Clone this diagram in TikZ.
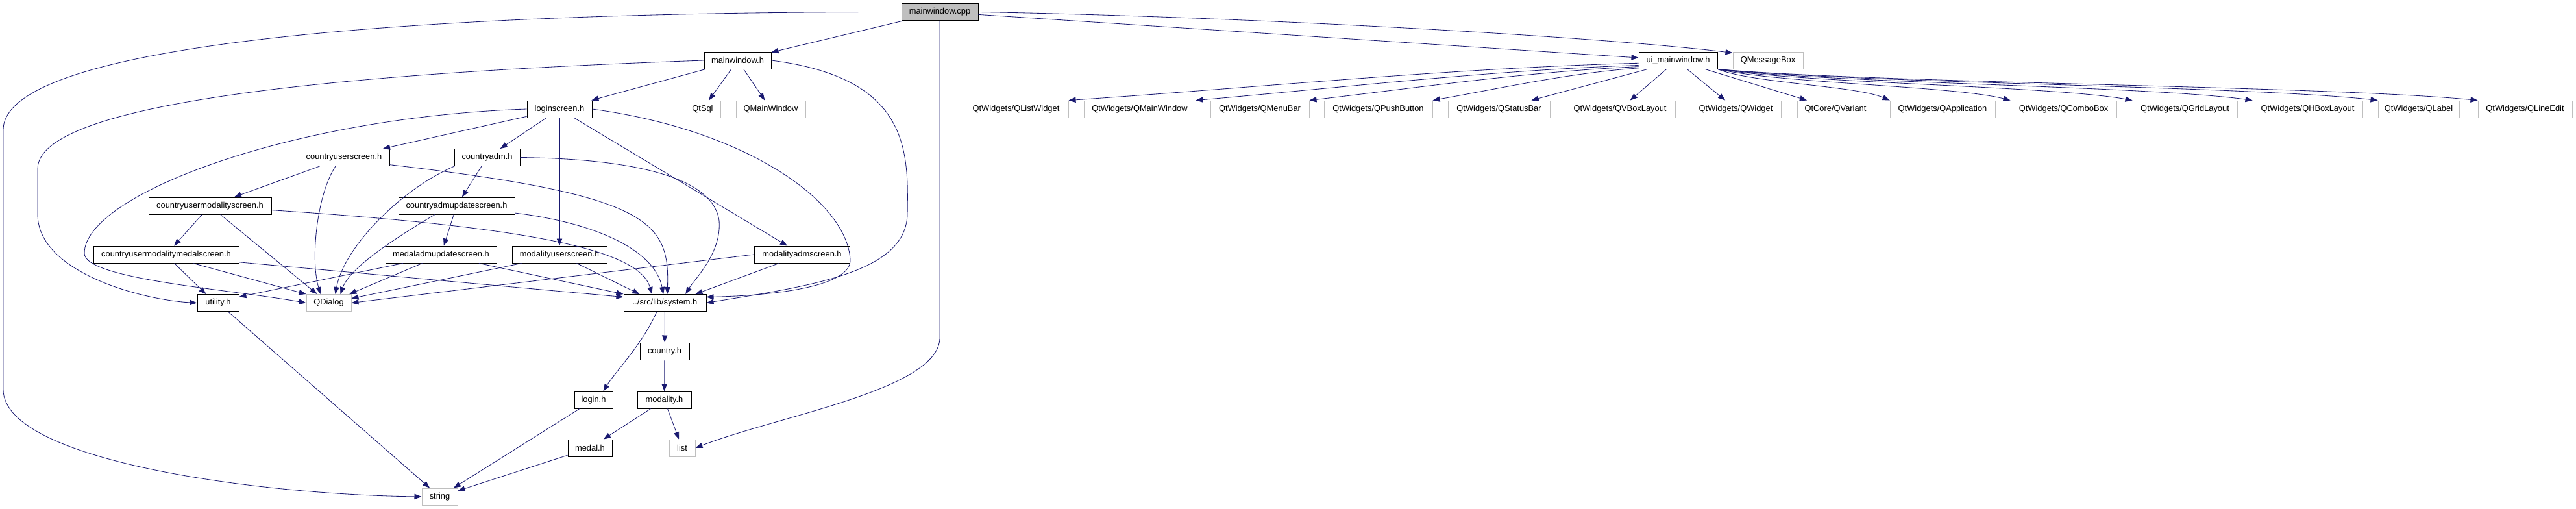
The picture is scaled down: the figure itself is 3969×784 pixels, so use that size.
\documentclass[tikz,border=0pt]{standalone}
\usepackage{fontspec}
\setmainfont{Liberation Sans}
\usetikzlibrary{arrows.meta}
\definecolor{cnavy}{HTML}{191970}
\definecolor{cgrey}{HTML}{BFBFBF}
\tikzset{
  every picture/.style={x=0.254mm, y=-0.254mm},
  file/.style={draw=black, fill=white, line width=0.7pt, inner sep=0pt, minimum height=6.6mm, font=\fontsize{9.3}{11}\selectfont},
  hdr/.style={file, minimum width=#1*0.254mm},
  ext/.style={file, draw=cgrey, minimum width=#1*0.254mm},
  root/.style={file, fill=cgrey, minimum width=#1*0.254mm},
  dep/.style={-{Triangle[length=2.8mm, width=2.1mm]}, draw=cnavy, line width=0.6pt},
}

\begin{document}
\begin{tikzpicture}
  \useasboundingbox (0,0) rectangle (3969,784);
  \node[root=118] (cpp) at (1448,18.5) {mainwindow.cpp};
  \node[hdr=103] (mw) at (1136.5,93) {mainwindow.h};
  \node[hdr=121] (ui) at (2585.5,93) {ui\_mainwindow.h};
  \node[ext=108] (qmb) at (2724,93) {QMessageBox};
  \node[hdr=100] (login) at (862,168) {loginscreen.h};
  \node[ext=55] (qsql) at (1082.5,168) {QtSql};
  \node[ext=107] (qmain) at (1187.5,168) {QMainWindow};
  \node[hdr=140] (cus) at (530,242.5) {countryuserscreen.h};
  \node[hdr=101] (cadm) at (750.5,242.5) {countryadm.h};
  \node[hdr=189] (cums) at (323.5,317) {countryusermodalityscreen.h};
  \node[hdr=179] (cadmu) at (703.5,317) {countryadmupdatescreen.h};
  \node[hdr=224] (cumms) at (256,392) {countryusermodalitymedalscreen.h};
  \node[hdr=171] (madmu) at (679.5,392) {medaladmupdatescreen.h};
  \node[hdr=146] (mus) at (862,392) {modalityuserscreen.h};
  \node[hdr=147] (mas) at (1235.5,392) {modalityadmscreen.h};
  \node[hdr=64] (util) at (336,466.5) {utility.h};
  \node[ext=69] (qdlg) at (506.5,466.5) {QDialog};
  \node[hdr=127] (sys) at (1024.5,466.5) {../src/lib/system.h};
  \node[hdr=76] (country) at (1024,541) {country.h};
  \node[hdr=59] (loginh) at (914.5,616) {login.h};
  \node[hdr=83] (modal) at (1023.5,616) {modality.h};
  \node[hdr=68] (medal) at (909,690) {medal.h};
  \node[ext=40] (list) at (1051,690) {list};
  \node[ext=55] (str) at (677.5,765) {string};
  \node[ext=161] (qlw) at (1565.5,168) {QtWidgets/QListWidget};
  \node[ext=172] (qmw) at (1756,168) {QtWidgets/QMainWindow};
  \node[ext=152] (qmbar) at (1941,168) {QtWidgets/QMenuBar};
  \node[ext=167] (qpb) at (2123.5,168) {QtWidgets/QPushButton};
  \node[ext=157] (qsb) at (2309.5,168) {QtWidgets/QStatusBar};
  \node[ext=170] (qvb) at (2496,168) {QtWidgets/QVBoxLayout};
  \node[ext=139] (qw) at (2674.5,168) {QtWidgets/QWidget};
  \node[ext=118] (qvar) at (2828,168) {QtCore/QVariant};
  \node[ext=162] (qapp) at (2993,168) {QtWidgets/QApplication};
  \node[ext=163] (qcb) at (3179.5,168) {QtWidgets/QComboBox};
  \node[ext=161] (qgl) at (3366.5,168) {QtWidgets/QGridLayout};
  \node[ext=169] (qhb) at (3555.5,168) {QtWidgets/QHBoxLayout};
  \node[ext=125] (qlab) at (3726.5,168) {QtWidgets/QLabel};
  \node[ext=145] (qle) at (3890.5,168) {QtWidgets/QLineEdit};
  % straight includes
  \foreach \u/\v in {cpp/mw, cpp/ui, mw/login, mw/qsql, mw/qmain, login/cus, login/cadm, login/mus, login/mas, cus/cums, cadm/cadmu, cums/cumms, cadmu/madmu, util/str, sys/country, country/modal, modal/medal, modal/list, loginh/str, medal/str, ui.196/qsb, ui.217/qvb, ui.316/qw, ui.342/qvar}
    \draw[dep] (\u) -- (\v);
  \foreach \u/\v in {cums.320/qdlg.143, cumms.342/qdlg.north west, madmu.205/qdlg.23, mus.193/qdlg.11, mas.west/qdlg.east, cumms.313/util.144, madmu.193/util.16, cumms.354/sys.172, madmu.347/sys.north west, mus.333/sys.161, mas.201/sys.16}
    \draw[dep] (\u) -- (\v);
  % curved includes
  \draw[dep] (cpp.west) .. controls (700,18) and (5,60) .. (5,200) -- (5,600) .. controls (5,710) and (400,762) .. (str.west);
  \draw[dep] (cpp.south) -- (cpp.south |- 0,520) .. controls (1448,600) and (1200,640) .. (list.east);
  \draw[dep] (cpp.east) .. controls (1900,25) and (2450,55) .. (qmb.168);
  \draw[dep] (mw.west) .. controls (600,110) and (58,150) .. (58,260) -- (58,330) .. controls (58,420) and (220,462) .. (util.west);
  \draw[dep] (mw.east) .. controls (1400,120) and (1400,230) .. (1398,330) .. controls (1396,420) and (1250,440) .. (sys.east);
  \draw[dep] (login.east) .. controls (1150,200) and (1305,310) .. (1310,400) .. controls (1312,440) and (1200,455) .. (sys.8);
  \draw[dep] (login.west) .. controls (450,180) and (130,300) .. (130,390) .. controls (130,430) and (350,445) .. (qdlg.west);
  \draw[dep] (cus.226) .. controls (488,300) and (478,400) .. (qdlg.133);
  \draw[dep] (cadm.195) .. controls (620,290) and (530,380) .. (qdlg.53);
  \draw[dep] (cadmu.202) .. controls (620,360) and (540,410) .. (qdlg.37);
  \draw[dep] (cums.356) .. controls (820,350) and (985,385) .. (sys.146);
  \draw[dep] (cadmu.353) .. controls (930,345) and (1010,390) .. (sys.100);
  \draw[dep] (cus.351) .. controls (1000,300) and (1032,340) .. (sys.75);
  \draw[dep] (cadm.east) .. controls (1000,245) and (1100,280) .. (1108,340) .. controls (1112,390) and (1070,430) .. (sys.23);
  \draw[dep] (sys.227) .. controls (990,530) and (950,570) .. (loginh.42);
  \draw[dep] (ui.184) .. controls (2235,105) and (1936,135) .. (qlw.north east);
  \draw[dep] (ui.187) .. controls (2300,108) and (2067,135) .. (qmw.north east);
  \draw[dep] (ui.189) .. controls (2357,110) and (2185,135) .. (qmbar.north east);
  \draw[dep] (ui.191) .. controls (2420,112) and (2312,136) .. (qpb.north east);
  \foreach \v/\a/\b in {qapp/2699/2859, qcb/2736/3008, qgl/2774/3158, qhb/2811/3306, qlab/2850/3460, qle/2880/3584}
    \draw[dep] (ui.south east) .. controls (\a,128) and (\b,132) .. (\v.north west);
\end{tikzpicture}
\end{document}
